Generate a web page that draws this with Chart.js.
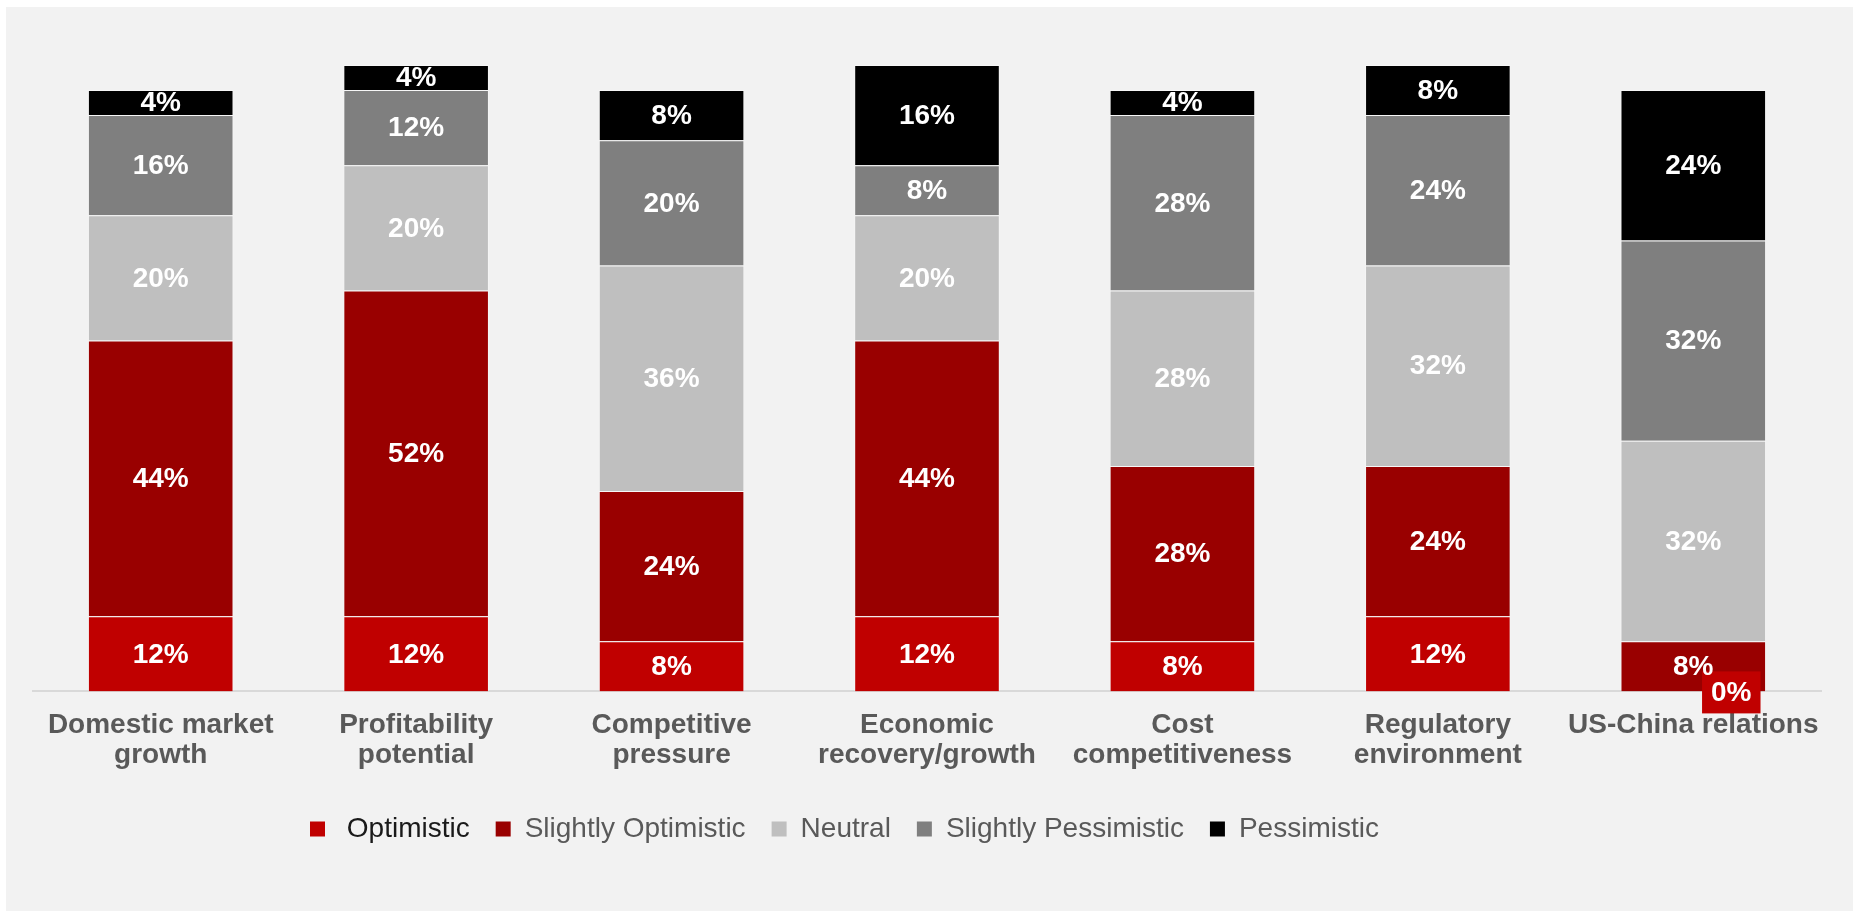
<!DOCTYPE html>
<html>
<head>
<meta charset="utf-8">
<title>Business outlook</title>
<script src="https://cdn.jsdelivr.net/npm/chart.js@4.4.1/dist/chart.umd.min.js"></script>
<style>
  html, body { margin: 0; padding: 0; background: #ffffff; }
  #panel {
    position: absolute; left: 6px; top: 7px;
    width: 1847px; height: 904px;
    background: #f2f2f2;
  }
</style>
</head>
<body>
<div id="panel"><canvas id="outlookChart"></canvas></div>
<script>
const categories = [
  ['Domestic market', 'growth'],
  ['Profitability', 'potential'],
  ['Competitive', 'pressure'],
  ['Economic', 'recovery/growth'],
  ['Cost', 'competitiveness'],
  ['Regulatory', 'environment'],
  'US-China relations'
];

const optimistic          = [12, 12,  8, 12,  8, 12,  0];
const slightlyOptimistic  = [44, 52, 24, 44, 28, 24,  8];
const neutral             = [20, 20, 36, 20, 28, 32, 32];
const slightlyPessimistic = [16, 12, 20,  8, 28, 24, 32];
const pessimistic         = [ 4,  4,  8, 16,  4,  8, 24];

const FONT = "'Liberation Sans', Arial, sans-serif";
const edge = 'rgba(255,255,255,0.3)';

const series = (label, data, color) => ({
  label, data,
  backgroundColor: color,
  borderColor: edge,
  borderWidth: 1,
  categoryPercentage: 1.0,
  barPercentage: 0.57
});

// white percentage labels in the middle of each segment;
// zero values get a small filled tag next to the baseline
const segmentLabels = {
  id: 'segmentLabels',
  afterDatasetsDraw(chart) {
    const ctx = chart.ctx;
    ctx.save();
    ctx.font = `bold 28px ${FONT}`;
    ctx.textAlign = 'center';
    ctx.textBaseline = 'middle';
    chart.data.datasets.forEach((ds, i) => {
      const meta = chart.getDatasetMeta(i);
      meta.data.forEach((bar, j) => {
        const v = ds.data[j];
        const txt = v + '%';
        if (v > 0) {
          ctx.fillStyle = '#ffffff';
          ctx.fillText(txt, bar.x, (bar.y + bar.base) / 2 + 1);
        } else {
          const x = bar.x + 38, y = bar.base + 1;
          const w = ctx.measureText(txt).width + 18, h = 42;
          ctx.fillStyle = ds.backgroundColor;
          ctx.fillRect(x - w / 2, y - h / 2, w, h);
          ctx.fillStyle = '#ffffff';
          ctx.fillText(txt, x, y + 1);
        }
      });
    });
    ctx.restore();
  }
};

// legend sits a little left of centre and slightly lower
const legendShift = {
  id: 'legendShift',
  afterLayout(chart) {
    const lg = chart.legend;
    const dx = 304 - lg.options.labels.padding - lg.left;
    lg.left += dx;
    lg.right += dx;
    lg.top += 8;
    lg.bottom += 8;
  }
};

new Chart(document.getElementById('outlookChart'), {
  type: 'bar',
  data: {
    labels: categories,
    datasets: [
      series('Optimistic', optimistic, '#c00000'),
      series('Slightly Optimistic', slightlyOptimistic, '#990000'),
      series('Neutral', neutral, '#bfbfbf'),
      series('Slightly Pessimistic', slightlyPessimistic, '#7f7f7f'),
      series('Pessimistic', pessimistic, '#000000')
    ]
  },
  options: {
    responsive: true,
    maintainAspectRatio: false,
    animation: false,
    layout: { padding: { top: 58, left: 27, right: 32, bottom: 66 } },
    scales: {
      x: {
        stacked: true,
        grid: { display: false },
        border: { color: '#d9d9d9', width: 2 },
        ticks: {
          padding: 10,
          color: '#595959',
          font: { family: FONT, size: 28, weight: 'bold', lineHeight: 1.1 },
          maxRotation: 0,
          autoSkip: false
        }
      },
      y: { stacked: true, min: 0, max: 100, display: false }
    },
    plugins: {
      tooltip: { enabled: false },
      legend: {
        position: 'bottom',
        align: 'start',
        labels: {
          boxWidth: 15,
          boxHeight: 15,
          padding: 26,
          color: '#595959',
          font: { family: FONT, size: 28 },
          generateLabels(chart) {
            const items = Chart.defaults.plugins.legend.labels.generateLabels(chart);
            items.forEach(it => { it.lineWidth = 0; });
            items[0].text = ' Optimistic';
            items[0].fontColor = '#1a1a1a';
            return items;
          }
        }
      }
    }
  },
  plugins: [segmentLabels, legendShift]
});
</script>
</body>
</html>
